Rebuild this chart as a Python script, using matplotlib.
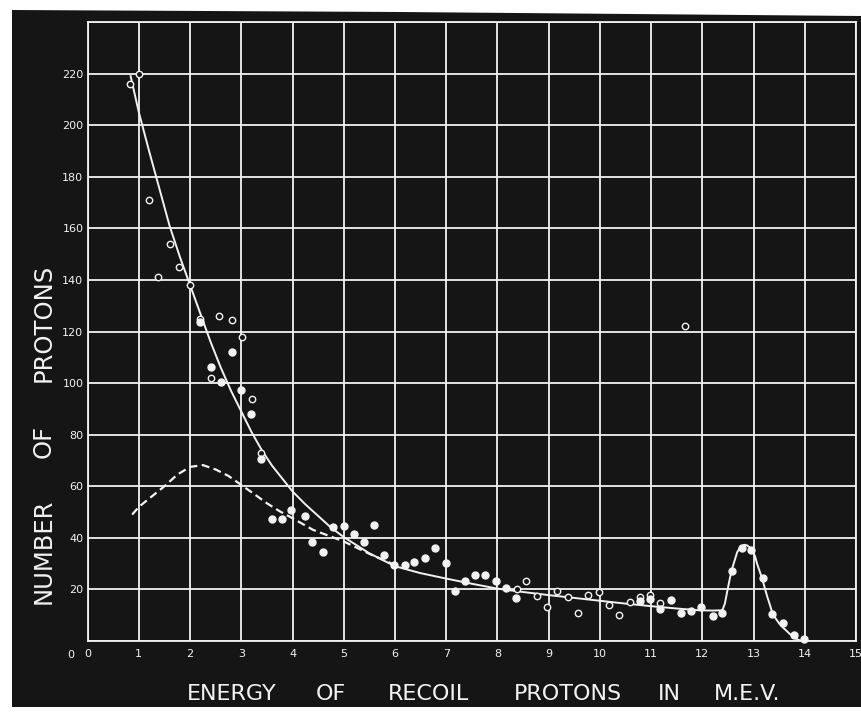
import matplotlib
matplotlib.use("Agg")
import matplotlib.pyplot as plt
from matplotlib.patches import Polygon
import numpy as np

# ---- data ----
# smooth solid curve (drawn by hand in the original)
curve_x = [0.84, 1.0, 1.2, 1.4, 1.6, 1.8, 2.0, 2.2, 2.4, 2.6, 2.8, 3.0, 3.2, 3.4,
           3.6, 3.8, 4.0, 4.25, 4.5, 4.75, 5.0, 5.5, 6.0, 6.5, 7.0, 7.5, 8.0, 8.5,
           9.0, 9.5, 10.0, 10.5, 11.0, 11.5, 11.94, 12.2, 12.39, 12.44, 12.49,
           12.54, 12.59, 12.64, 12.68, 12.73, 12.78, 12.83, 12.88, 12.93, 12.98,
           13.03, 13.07, 13.12, 13.17, 13.22, 13.27, 13.32, 13.36, 13.43, 13.5,
           13.57, 13.63, 13.71, 13.79, 13.86, 13.92, 14.0]
curve_y = [219, 205, 190, 175.5, 161, 149, 138, 127, 116, 106, 97, 89, 81, 74,
           68, 63, 58, 53, 48.5, 44, 40.3, 34, 29, 26.3, 24.2, 22.2, 20.3, 19,
           17.8, 16.7, 15.6, 14.5, 13.5, 12.6, 11.9, 11.8, 11.9, 14.5, 19.6,
           24.5, 28.6, 31.8, 34.4, 36, 37, 37.3, 37, 36.2, 35,
           32.8, 29.9, 27, 24.1, 20.5, 17, 14, 11.3, 8.8, 6.8,
           5.3, 4.2, 2.7, 1.4, 0.6, 0.1, 0]

# dashed curve
dashed_x = [0.87, 1.0, 1.25, 1.5, 1.75, 2.0, 2.25, 2.5, 2.75, 3.0, 3.25, 3.5,
            3.75, 4.0, 4.4, 5.0, 5.5, 6.1]
dashed_y = [49, 52, 56, 60, 64.5, 67.5, 68.2, 66.5, 64, 60.5, 57, 53.4,
            50.3, 47.6, 43.1, 38.6, 33.8, 28.6]

# open circles
open_x = [0.82, 1.0, 1.2, 1.38, 1.6, 1.79, 2.0, 2.19, 2.56, 2.81, 3.01, 2.41,
          3.2, 3.39, 8.38, 8.56, 8.77, 8.97, 9.17, 9.38, 9.57, 9.77, 9.99,
          10.17, 10.37, 10.58, 10.79, 10.98, 11.18, 11.66]
open_y = [216, 220, 171, 141, 154, 145, 138, 125, 126, 124.5, 118, 102,
          94, 72.7, 20, 23.4, 17.4, 13.3, 19.2, 17, 10.7, 17.8, 19.1,
          13.9, 10, 15.1, 17.1, 17.8, 14.8, 122]

# filled circles
filled_x = [2.2, 2.81, 2.41, 2.6, 3.0, 3.19, 3.39, 3.59, 3.79, 3.98, 4.24, 4.39,
            4.59, 4.79, 5.0, 5.2, 5.39, 5.59, 5.78, 5.99, 6.19, 6.38, 6.58,
            6.78, 6.99, 7.18, 7.37, 7.57, 7.76, 7.98, 8.17, 8.37, 10.79, 10.98,
            11.18, 11.38, 11.59, 11.78, 11.98, 12.2, 12.39, 12.58, 12.77, 12.96,
            13.18, 13.36, 13.58, 13.78, 13.98]
filled_y = [123.5, 112, 106.4, 100.4, 97.5, 88.2, 70.4, 47.2, 47.2, 50.8, 48.3, 38.2,
            34.4, 44.2, 44.4, 41.5, 38.2, 45.1, 33.4, 29.3, 29.3, 30.5, 32.3,
            35.9, 30.3, 19.2, 23.4, 25.4, 25.4, 23.4, 20.6, 16.5, 15.4, 16.3,
            12.3, 15.9, 10.8, 11.8, 13.1, 9.7, 11.0, 27.0, 36.1, 35.1,
            24.5, 10.6, 6.8, 2.5, 0.6]

x_ticks = list(range(0, 16))
y_ticks = list(range(0, 241, 20))
y_labels = [""] + [str(v) for v in range(20, 221, 20)] + [""]

xlabel_words = ["ENERGY", "OF", "RECOIL", "PROTONS", "IN", "M.E.V."]
ylabel_words = ["NUMBER", "OF", "PROTONS"]


def main():
    W, H = 862, 715
    black = '#151515'
    white = '#f2f2f2'

    fig = plt.figure(figsize=(W / 100, H / 100), dpi=100, facecolor='white')

    # black board of the photographed chart (white paper round it)
    board = [(12, 10), (400, 12), (862, 16), (862, 707), (12, 707)]
    board = [(px / W, 1 - py / H) for px, py in board]
    fig.patches.append(Polygon(board, closed=True, transform=fig.transFigure,
                               facecolor=black, edgecolor='none', zorder=-5))

    ax = fig.add_axes([87.6 / W, 1 - 641 / H, (856 - 87.6) / W, (641 - 22) / H])
    ax.set_zorder(1)
    ax.set_facecolor(black)
    ax.set_xlim(0, 15)
    ax.set_ylim(0, 240)

    ax.set_xticks(x_ticks)
    ax.set_xticklabels([str(v) for v in x_ticks])
    ax.set_yticks(y_ticks)
    ax.set_yticklabels(y_labels)
    ax.tick_params(axis='both', length=0, colors=white, labelsize=8)
    ax.tick_params(axis='x', pad=6)
    ax.tick_params(axis='y', pad=3)
    ax.grid(True, color=white, linewidth=1.3, zorder=1)
    for s in ax.spines.values():
        s.set_color(white)
        s.set_linewidth(1.3)

    # the lone "0" of the y axis sits down beside the x "0"
    ax.text(-0.33, -5.5, "0", color=white, fontsize=8, ha='center', va='center',
            clip_on=False)

    # curves
    ax.plot(curve_x, curve_y, color=white, linewidth=1.4, zorder=3)
    ax.plot(dashed_x, dashed_y, color=white, linewidth=1.6, zorder=3,
            linestyle=(0, (3.6, 2)))

    # points
    ax.plot(open_x, open_y, 'o', markersize=4.6, markerfacecolor=black,
            markeredgecolor=white, markeredgewidth=1.0, zorder=4, clip_on=False)
    ax.plot(filled_x, filled_y, 'o', markersize=5, markerfacecolor=white,
            markeredgecolor=white, zorder=4, clip_on=False)

    # axis titles, word by word as lettered on the original
    x_centers = [232, 331, 428.5, 568, 669, 747.5]
    for word, px in zip(xlabel_words, x_centers):
        fig.text(px / W, 1 - 700 / H, word, color=white, fontsize=16,
                 ha='center', va='baseline')

    y_centers = [551, 441.5, 322.5]
    for word, py in zip(ylabel_words, y_centers):
        fig.text(44 / W, 1 - py / H, word, color=white, fontsize=17.5,
                 rotation=90, ha='center', va='center')

    fig.savefig("out.png", dpi=100, facecolor=fig.get_facecolor())
    plt.close(fig)


if __name__ == "__main__":
    main()
